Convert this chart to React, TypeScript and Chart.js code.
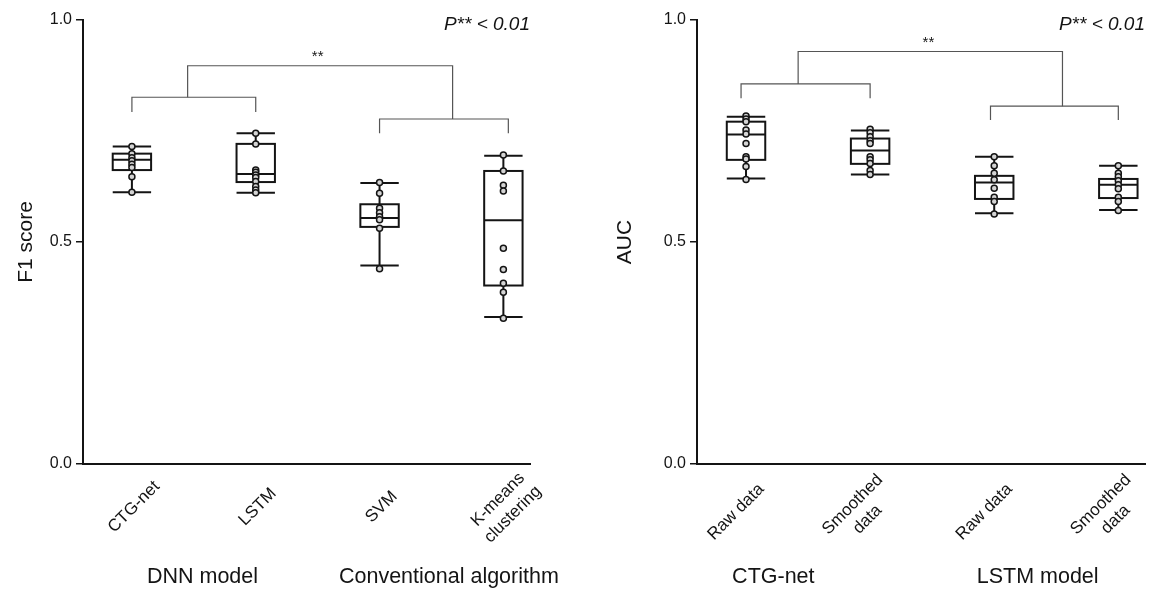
import React, { useEffect, useRef } from 'react';
import { Chart, registerables } from 'chart.js';

Chart.register(...registerables);

const FONT = '"Liberation Sans", Arial, Helvetica, sans-serif';
const INK = '#141414';

// ---------- Left panel (F1 score) ----------
const leftCategories = [['CTG-net'], ['LSTM'], ['SVM'], ['K-means', 'clustering']];
const leftMin = [0.612, 0.611, 0.447, 0.331];
const leftQ1 = [0.662, 0.635, 0.534, 0.402];
const leftMedian = [0.685, 0.653, 0.554, 0.549];
const leftQ3 = [0.699, 0.721, 0.585, 0.660];
const leftMax = [0.715, 0.745, 0.633, 0.694];
const leftPoints = [
  [0.715, 0.699, 0.690, 0.683, 0.675, 0.668, 0.647, 0.612],
  [0.745, 0.721, 0.662, 0.657, 0.651, 0.645, 0.636, 0.625, 0.617, 0.611],
  [0.634, 0.610, 0.576, 0.566, 0.557, 0.550, 0.531, 0.440],
  [0.696, 0.660, 0.628, 0.615, 0.486, 0.438, 0.407, 0.387, 0.328],
];
const leftGroups = ['DNN model', 'Conventional algorithm'];
const leftGroupPos = [1.57, 3.56];
const leftBracketX = [[1, 2], [3, 4.04], [1.45, 3.59]];
const leftBracketY = [0.826, 0.777, 0.897];
const leftBracketEnds = [[0.793, 0.793], [0.745, 0.745], [0.826, 0.777]];
const leftStarX = 2.5;

// ---------- Right panel (AUC) ----------
const rightCategories = [['Raw data'], ['Smoothed', 'data'], ['Raw data'], ['Smoothed', 'data']];
const rightMin = [0.643, 0.652, 0.565, 0.572];
const rightQ1 = [0.685, 0.676, 0.597, 0.599];
const rightMedian = [0.742, 0.706, 0.634, 0.629];
const rightQ3 = [0.771, 0.733, 0.649, 0.642];
const rightMax = [0.782, 0.751, 0.692, 0.672];
const rightPoints = [
  [0.784, 0.777, 0.771, 0.752, 0.743, 0.722, 0.692, 0.687, 0.670, 0.641],
  [0.754, 0.746, 0.737, 0.728, 0.722, 0.692, 0.685, 0.677, 0.661, 0.652],
  [0.692, 0.672, 0.655, 0.640, 0.621, 0.601, 0.591, 0.563],
  [0.672, 0.655, 0.647, 0.638, 0.629, 0.620, 0.601, 0.591, 0.571],
];
const rightGroups = ['CTG-net', 'LSTM model'];
const rightGroupPos = [1.22, 3.35];
const rightBracketX = [[0.96, 2], [2.97, 4.0], [1.42, 3.55]];
const rightBracketY = [0.856, 0.806, 0.929];
const rightBracketEnds = [[0.824, 0.824], [0.775, 0.775], [0.856, 0.806]];
const rightStarX = 2.47;

const pValueText = 'P** < 0.01';
const starText = '**';

type PanelCfg = {
  categories: string[][];
  min: number[]; q1: number[]; median: number[]; q3: number[]; max: number[];
  points: number[][];
  yTitle: string;
  groups: string[]; groupPos: number[];
  bracketX: number[][]; bracketY: number[]; bracketEnds: number[][]; starX: number;
  // layout
  yAxisWidth: number; titlePad: number; padRight: number; labelDx: number; labelDy: number;
};

const BOX_HALF = 0.155;

function Panel({ cfg, left }: { cfg: PanelCfg; left: number }) {
  const ref = useRef<HTMLCanvasElement | null>(null);
  useEffect(() => {
    if (!ref.current) return;
    const n = cfg.categories.length;
    const data: { x: number; y: number }[] = [];
    cfg.points.forEach((arr, i) => arr.forEach((v) => data.push({ x: i + 1, y: v })));

    const boxPlugin = {
      id: 'boxes',
      beforeDatasetsDraw(chart: any) {
        const { ctx } = chart;
        const xs = chart.scales.x, ys = chart.scales.y;
        ctx.save();
        ctx.strokeStyle = INK;
        ctx.lineWidth = 2;
        for (let i = 0; i < n; i++) {
          const cx = xs.getPixelForValue(i + 1);
          const hw = xs.getPixelForValue(i + 1 + BOX_HALF) - cx;
          const yMin = ys.getPixelForValue(cfg.min[i]);
          const yQ1 = ys.getPixelForValue(cfg.q1[i]);
          const yMed = ys.getPixelForValue(cfg.median[i]);
          const yQ3 = ys.getPixelForValue(cfg.q3[i]);
          const yMax = ys.getPixelForValue(cfg.max[i]);
          ctx.beginPath();
          ctx.moveTo(cx, yMax); ctx.lineTo(cx, yQ3);
          ctx.moveTo(cx, yQ1); ctx.lineTo(cx, yMin);
          ctx.moveTo(cx - hw, yMax); ctx.lineTo(cx + hw, yMax);
          ctx.moveTo(cx - hw, yMin); ctx.lineTo(cx + hw, yMin);
          ctx.stroke();
          ctx.fillStyle = '#ffffff';
          ctx.fillRect(cx - hw, yQ3, 2 * hw, yQ1 - yQ3);
          ctx.strokeRect(cx - hw, yQ3, 2 * hw, yQ1 - yQ3);
          ctx.beginPath();
          ctx.moveTo(cx - hw, yMed); ctx.lineTo(cx + hw, yMed);
          ctx.stroke();
        }
        ctx.restore();
      },
      afterDraw(chart: any) {
        const { ctx, chartArea } = chart;
        const xs = chart.scales.x, ys = chart.scales.y;
        ctx.save();
        // brackets
        ctx.strokeStyle = '#555555';
        ctx.lineWidth = 1.2;
        cfg.bracketX.forEach((bx, k) => {
          const x1 = xs.getPixelForValue(bx[0]);
          const x2 = xs.getPixelForValue(bx[1]);
          const y = ys.getPixelForValue(cfg.bracketY[k]);
          const e1 = ys.getPixelForValue(cfg.bracketEnds[k][0]);
          const e2 = ys.getPixelForValue(cfg.bracketEnds[k][1]);
          ctx.beginPath();
          ctx.moveTo(x1, e1); ctx.lineTo(x1, y); ctx.lineTo(x2, y); ctx.lineTo(x2, e2);
          ctx.stroke();
        });
        // star
        ctx.fillStyle = INK;
        ctx.font = `15px ${FONT}`;
        ctx.textAlign = 'center';
        ctx.textBaseline = 'bottom';
        const topY = ys.getPixelForValue(cfg.bracketY[cfg.bracketY.length - 1]);
        ctx.fillText(starText, xs.getPixelForValue(cfg.starX), topY - 1);
        // p value
        ctx.font = `italic 19px ${FONT}`;
        ctx.textAlign = 'right';
        ctx.textBaseline = 'middle';
        ctx.fillText(pValueText, chartArea.right, 25);
        // category labels rotated
        ctx.font = `17px ${FONT}`;
        ctx.textAlign = 'center';
        ctx.textBaseline = 'middle';
        for (let i = 0; i < n; i++) {
          const lines = cfg.categories[i];
          const cx = xs.getPixelForValue(i + 1) + cfg.labelDx;
          const cy = chartArea.bottom + cfg.labelDy;
          ctx.save();
          ctx.translate(cx, cy);
          ctx.rotate(-Math.PI / 4);
          lines.forEach((ln, j) => {
            ctx.fillText(ln, 0, (j - (lines.length - 1) / 2) * 21);
          });
          ctx.restore();
        }
        // group labels
        ctx.font = `21.5px ${FONT}`;
        ctx.textAlign = 'center';
        ctx.textBaseline = 'middle';
        cfg.groups.forEach((g, k) => {
          ctx.fillText(g, xs.getPixelForValue(cfg.groupPos[k]), 577);
        });
        ctx.restore();
      },
    };

    const chart = new Chart(ref.current, {
      type: 'scatter',
      data: {
        datasets: [
          {
            data,
            pointRadius: 3,
            pointBorderWidth: 1.5,
            pointBackgroundColor: '#d4d4d4',
            pointBorderColor: INK,
            pointHoverRadius: 3,
          },
        ],
      },
      options: {
        animation: false,
        responsive: false,
        maintainAspectRatio: false,
        devicePixelRatio: 1,
        layout: { padding: { top: 20, right: cfg.padRight, left: 0, bottom: 0 } },
        plugins: { legend: { display: false }, tooltip: { enabled: false } },
        scales: {
          x: {
            type: 'linear',
            min: 0.605,
            max: 4.215,
            grid: { display: false },
            border: { display: true, color: INK, width: 2 },
            ticks: { display: false },
            afterFit: (s: any) => { s.height = 125; },
          },
          y: {
            type: 'linear',
            min: 0,
            max: 1,
            ticks: {
              stepSize: 0.5,
              callback: (v: any) => Number(v).toFixed(1),
              font: { family: FONT, size: 16 },
              color: INK,
              padding: 4,
            },
            grid: { drawOnChartArea: false, drawTicks: true, tickLength: 7, color: INK, lineWidth: 1.5 },
            border: { display: true, color: INK, width: 2 },
            title: {
              display: true,
              text: cfg.yTitle,
              font: { family: FONT, size: 21 },
              color: INK,
              padding: { top: cfg.titlePad, bottom: 0 },
            },
            afterFit: (s: any) => { s.width = cfg.yAxisWidth; },
          },
        },
      },
      plugins: [boxPlugin],
    } as any);
    return () => chart.destroy();
  }, [cfg]);

  return (
    <canvas
      ref={ref}
      width={580}
      height={589}
      style={{ position: 'absolute', left, top: 0, width: 580, height: 589 }}
    />
  );
}

const leftCfg: PanelCfg = {
  categories: leftCategories,
  min: leftMin, q1: leftQ1, median: leftMedian, q3: leftQ3, max: leftMax,
  points: leftPoints,
  yTitle: 'F1 score',
  groups: leftGroups, groupPos: leftGroupPos,
  bracketX: leftBracketX, bracketY: leftBracketY, bracketEnds: leftBracketEnds, starX: leftStarX,
  yAxisWidth: 83, titlePad: 14, padRight: 50, labelDx: 2, labelDy: 43,
};

const rightCfg: PanelCfg = {
  categories: rightCategories,
  min: rightMin, q1: rightQ1, median: rightMedian, q3: rightQ3, max: rightMax,
  points: rightPoints,
  yTitle: 'AUC',
  groups: rightGroups, groupPos: rightGroupPos,
  bracketX: rightBracketX, bracketY: rightBracketY, bracketEnds: rightBracketEnds, starX: rightStarX,
  yAxisWidth: 117, titlePad: 33, padRight: 15, labelDx: -10, labelDy: 48,
};

export default function App() {
  return (
    <div style={{ position: 'fixed', left: 0, top: 0, width: 1160, height: 589, background: '#fff', overflow: 'hidden' }}>
      <Panel cfg={leftCfg} left={0} />
      <Panel cfg={rightCfg} left={580} />
    </div>
  );
}
